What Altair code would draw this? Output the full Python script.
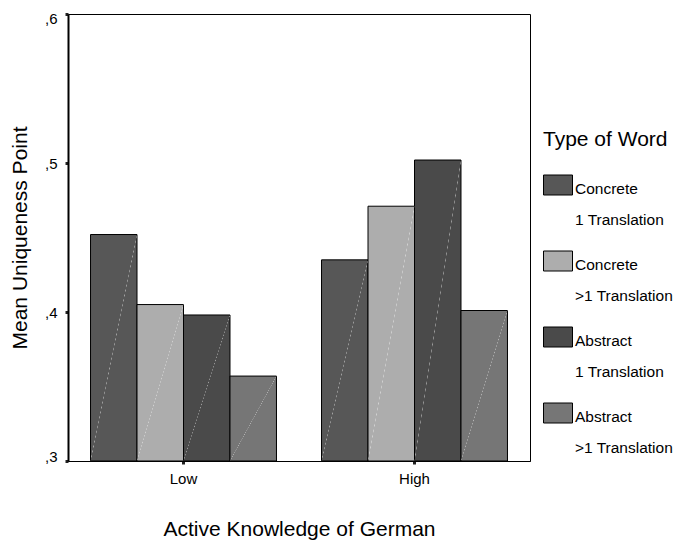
import altair as alt
import pandas as pd

groups = ["Low", "High"]
word_types = ["Concrete|1 Translation", "Concrete|>1 Translation",
              "Abstract|1 Translation", "Abstract|>1 Translation"]
low_values = [0.452, 0.405, 0.398, 0.357]
high_values = [0.435, 0.471, 0.502, 0.401]
colors = ["#575757", "#adadad", "#4a4a4a", "#767676"]

rows = []
for g, vals in zip(groups, [low_values, high_values]):
    for t, v in zip(word_types, vals):
        rows.append({"group": g, "type": t, "value": v})
df = pd.DataFrame(rows)

font = "Liberation Sans"

base = alt.Chart(df).encode(
    x=alt.X("group:N", sort=groups, title="Active Knowledge of German",
            scale=alt.Scale(paddingInner=0.195, paddingOuter=0.0975),
            axis=alt.Axis(labelAngle=0, labelFontSize=15, labelPadding=7,
                          tickSize=3, tickWidth=3, tickColor="#222",
                          domainColor="black", titleFontSize=21,
                          titleFontWeight="normal", titlePadding=32,
                          labelColor="black", titleColor="black")),
    xOffset=alt.XOffset("type:N", sort=word_types,
                        scale=alt.Scale(domain=word_types)),
    y=alt.Y("value:Q", title="Mean Uniqueness Point",
            scale=alt.Scale(domain=[0.3, 0.6], zero=False, nice=False),
            axis=alt.Axis(values=[0.3, 0.4, 0.5, 0.6], grid=False,
                          labelFlush=True, labelFlushOffset=3,
                          labelExpr="',' + substring(format(datum.value, '.1f'), 2)",
                          labelFontSize=15, labelPadding=8, tickSize=3, tickWidth=3,
                          tickColor="#222", domainColor="black", domainWidth=2,
                          titleFontSize=21, titleFontWeight="normal",
                          titlePadding=14, labelColor="black", titleColor="black")),
    y2=alt.datum(0.3),
)

bars = base.mark_bar(stroke="black", strokeWidth=1, opacity=1).encode(
    fill=alt.Fill("type:N", sort=word_types, title="Type of Word",
                  scale=alt.Scale(domain=word_types, range=colors),
                  legend=alt.Legend(orient="none", legendX=475, legendY=114.5,
                                    labelExpr="split(datum.label, '|')",
                                    labelFontSize=15.5, labelLimit=300,
                                    labelBaseline="top", labelOffset=11,
                                    symbolOffset=0,
                                    titleFontSize=21, titleFontWeight="normal",
                                    titlePadding=21.5, rowPadding=19, padding=0,
                                    symbolType="M-1,-0.65L1.9,-0.65L1.9,1.35L-1,1.35Z",
                                    symbolSize=400, symbolStrokeColor="black",
                                    symbolStrokeWidth=1, symbolOpacity=1,
                                    labelColor="black", titleColor="black")),
)

stripe = alt.LinearGradient(
    gradient="linear", x1=0, y1=0, x2=1, y2=1,
    stops=[alt.GradientStop(color="rgba(255,255,255,0)", offset=0),
           alt.GradientStop(color="rgba(255,255,255,0)", offset=0.496),
           alt.GradientStop(color="rgba(255,255,255,0.45)", offset=0.5),
           alt.GradientStop(color="rgba(255,255,255,0)", offset=0.504),
           alt.GradientStop(color="rgba(255,255,255,0)", offset=1)],
)
hatch = base.mark_bar(fill=stripe, strokeWidth=0)

chart = alt.layer(bars, hatch).properties(
    width=462, height=447,
    autosize=alt.AutoSizeParams(type="none"),
    padding={"left": 60, "top": 6, "right": 143, "bottom": 80},
).configure(
    font=font, style={"guide-label": {"lineHeight": 31}}
).configure_view(stroke="black", strokeWidth=1)

chart.save("out.html", embed_options={"renderer": "svg", "actions": False})
